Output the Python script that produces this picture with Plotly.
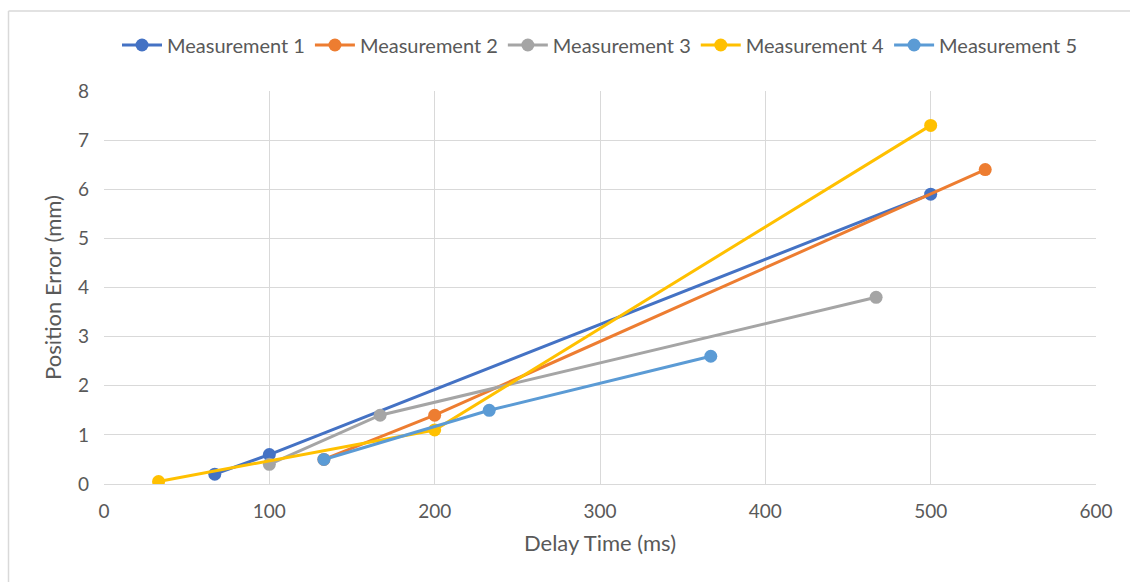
import plotly.graph_objects as go

names = ["Measurement 1", "Measurement 2", "Measurement 3", "Measurement 4", "Measurement 5"]
colors = ["#4472C4", "#ED7D31", "#A5A5A5", "#FFC000", "#5B9BD5"]
x1 = [67, 100, 500]
y1 = [0.2, 0.6, 5.9]
x2 = [133, 200, 533]
y2 = [0.5, 1.4, 6.4]
x3 = [100, 167, 467]
y3 = [0.4, 1.4, 3.8]
x4 = [33, 200, 500]
y4 = [0.05, 1.1, 7.3]
x5 = [133, 233, 367]
y5 = [0.5, 1.5, 2.6]
xs = [x1, x2, x3, x4, x5]
ys = [y1, y2, y3, y4, y5]

W, H = 1130, 582
L, R, T, B = 104, 34, 91, 98

fig = go.Figure()
for n, c, x, y in zip(names, colors, xs, ys):
    fig.add_trace(go.Scatter(x=x, y=y, name=n, mode="lines+markers",
                             line=dict(color=c, width=3),
                             marker=dict(color=c, size=13)))

font = "Lato, Open Sans, sans-serif"
tc = "#595959"
fig.update_layout(
    width=W, height=H,
    margin=dict(l=L, r=R, t=T, b=B),
    paper_bgcolor="white", plot_bgcolor="white",
    font=dict(family=font, size=19, color=tc),
    showlegend=True,
    legend=dict(orientation="h", x=0.5, xanchor="center", y=1 + (91 - 45) / (H - T - B), yanchor="middle",
                font=dict(size=20, color=tc), itemwidth=40, traceorder="normal"),
    xaxis=dict(range=[0, 600], dtick=100, showgrid=True, gridcolor="#D9D9D9", gridwidth=1,
               zeroline=False, showline=True, linecolor="#D9D9D9", linewidth=1,
               ticks="outside", ticklen=10, tickcolor="rgba(0,0,0,0)", tickfont=dict(size=19, color=tc),
               title=dict(text="Delay Time (ms)", font=dict(size=22, color=tc), standoff=14)),
    yaxis=dict(range=[0, 8], dtick=1, showgrid=True, gridcolor="#D9D9D9", gridwidth=1,
               zeroline=False, showline=False, ticks="", ticklabelstandoff=14,
               tickfont=dict(size=19, color=tc),
               title=dict(text="Position Error (mm)", font=dict(size=22, color=tc), standoff=10)),
)

pw = W - L - R
ph = H - T - B
def px(v):
    return (v - L) / pw
def py(v):
    return 1 - (v - T) / ph

fig.add_shape(type="line", xref="paper", yref="paper",
              x0=px(8.5), x1=px(8.5), y0=py(11), y1=py(600), line=dict(color="#D9D9D9", width=1.5))
fig.add_shape(type="line", xref="paper", yref="paper",
              x0=px(8.5), x1=px(1140), y0=py(11), y1=py(11), line=dict(color="#D9D9D9", width=1.5))

fig.write_html("out.html")
